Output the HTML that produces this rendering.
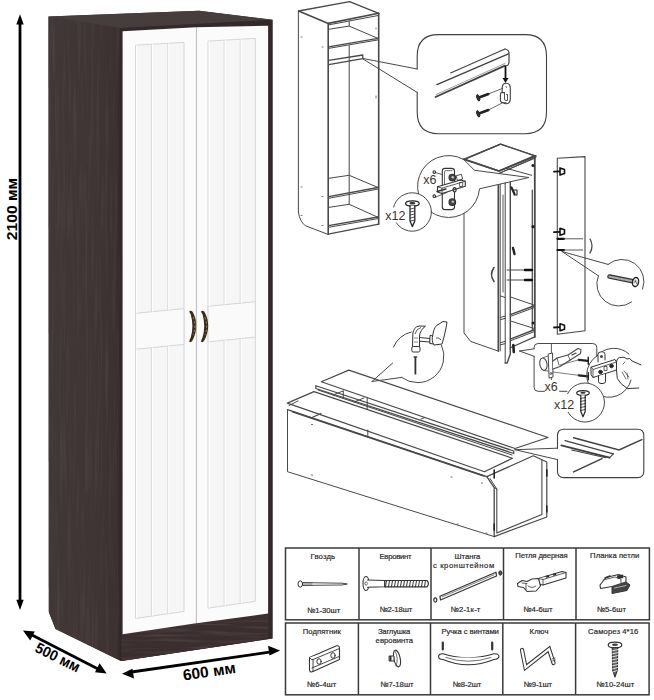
<!DOCTYPE html>
<html><head><meta charset="utf-8">
<style>
html,body{margin:0;padding:0;background:#fff;width:654px;height:700px;overflow:hidden}
svg{display:block;position:absolute;left:0;top:0}
text{font-family:"Liberation Sans",sans-serif}
</style></head>
<body>
<svg width="654" height="700" viewBox="0 0 654 700">
<defs>
<linearGradient id="side" x1="0" y1="0" x2="1" y2="0">
<stop offset="0" stop-color="#413737"/><stop offset="0.6" stop-color="#3f3535"/><stop offset="0.93" stop-color="#3b3131"/><stop offset="1" stop-color="#2e2424"/>
</linearGradient>
<filter id="grain" x="0" y="0" width="100%" height="100%">
<feTurbulence type="fractalNoise" baseFrequency="0.35 0.012" numOctaves="3" seed="7" result="n"/>
<feColorMatrix in="n" type="matrix" values="0 0 0 0 0.42  0 0 0 0 0.36  0 0 0 0 0.36  0 0 0 1.6 -0.75" result="c"/>
<feComposite in="c" in2="SourceGraphic" operator="in"/>
</filter>
<filter id="grainH" x="0" y="0" width="100%" height="100%">
<feTurbulence type="fractalNoise" baseFrequency="0.015 0.3" numOctaves="3" seed="3" result="n"/>
<feColorMatrix in="n" type="matrix" values="0 0 0 0 0.38  0 0 0 0 0.30  0 0 0 0 0.30  0 0 0 1.6 -0.75" result="c"/>
<feComposite in="c" in2="SourceGraphic" operator="in"/>
</filter>
</defs>
<!-- ===== WARDROBE ===== -->
<g id="wardrobe">
<!-- silhouette base -->
<polygon points="48.5,16.5 199,10.8 272.5,19.8 272.5,638.5 120.5,661 55.5,629 48.8,612" fill="#423838"/>
<!-- top surface -->
<polygon points="48.5,16.5 199,10.8 272.5,19.8 120.5,28" fill="#463d3d"/>
<!-- left side panel -->
<polygon points="48.5,16.5 121.5,28.2 121.5,661 55.5,629 48.8,612" fill="url(#side)"/>
<polygon points="48.5,16.5 121.5,28.2 121.5,661 55.5,629 48.8,612" fill="#fff" filter="url(#grain)" opacity="0.14"/>
<!-- front frame -->
<polygon points="121,28 272.5,19.8 272.5,638.5 121,661" fill="#33282a"/>
<polygon points="121.5,634 268.5,613 268.5,638.5 121.5,661" fill="#3b2e2e"/>
<polygon points="121.5,634 268.5,613 268.5,638.5 121.5,661" fill="#fff" filter="url(#grainH)" opacity="0.3"/>
<!-- left door -->
<polygon points="122.6,31.3 196.1,27.3 196.1,623.3 122.6,634.3" fill="#fbfbfb"/>
<!-- right door -->
<polygon points="196.6,27.3 268.1,25.8 268.1,613.5 196.6,623.2" fill="#fbfbfb"/>
<!-- DOORS -->
<polygon points="135.5,45.2 184.0,42.4 184.0,611.5 135.5,618.4" fill="#f6f6f6" stroke="#d6d6d6" stroke-width="1"/>
<polygon points="135.5,313.3 184.0,308.6 184.0,344.4 135.5,349.3" fill="#fafafa" stroke="#d6d6d6" stroke-width="1"/>
<line x1="151.4" y1="44.3" x2="151.4" y2="311.8" stroke="#dcdcdc" stroke-width="1.1"/>
<line x1="152.5" y1="44.2" x2="152.5" y2="311.7" stroke="#ffffff" stroke-width="0.9"/>
<line x1="167.7" y1="43.4" x2="167.7" y2="310.2" stroke="#dcdcdc" stroke-width="1.1"/>
<line x1="168.8" y1="43.3" x2="168.8" y2="310.1" stroke="#ffffff" stroke-width="0.9"/>
<line x1="136.7" y1="45.1" x2="136.7" y2="313.2" stroke="#ffffff" stroke-width="0.9"/>
<line x1="151.4" y1="347.7" x2="151.4" y2="616.1" stroke="#dcdcdc" stroke-width="1.1"/>
<line x1="152.5" y1="347.6" x2="152.5" y2="615.9" stroke="#ffffff" stroke-width="0.9"/>
<line x1="167.7" y1="346.0" x2="167.7" y2="613.8" stroke="#dcdcdc" stroke-width="1.1"/>
<line x1="168.8" y1="345.9" x2="168.8" y2="613.6" stroke="#ffffff" stroke-width="0.9"/>
<line x1="136.7" y1="349.2" x2="136.7" y2="618.2" stroke="#ffffff" stroke-width="0.9"/>
<polygon points="208.0,41.1 255.3,38.4 255.3,601.3 208.0,608.1" fill="#f6f6f6" stroke="#d6d6d6" stroke-width="1"/>
<polygon points="208.0,306.3 255.3,301.7 255.3,337.1 208.0,341.9" fill="#fafafa" stroke="#d6d6d6" stroke-width="1"/>
<line x1="224.1" y1="40.2" x2="224.1" y2="304.7" stroke="#dcdcdc" stroke-width="1.1"/>
<line x1="225.2" y1="40.1" x2="225.2" y2="304.6" stroke="#ffffff" stroke-width="0.9"/>
<line x1="240.2" y1="39.3" x2="240.2" y2="303.2" stroke="#dcdcdc" stroke-width="1.1"/>
<line x1="241.3" y1="39.2" x2="241.3" y2="303.1" stroke="#ffffff" stroke-width="0.9"/>
<line x1="209.2" y1="41.0" x2="209.2" y2="306.2" stroke="#ffffff" stroke-width="0.9"/>
<line x1="224.1" y1="340.3" x2="224.1" y2="605.8" stroke="#dcdcdc" stroke-width="1.1"/>
<line x1="225.2" y1="340.2" x2="225.2" y2="605.6" stroke="#ffffff" stroke-width="0.9"/>
<line x1="240.2" y1="338.6" x2="240.2" y2="603.5" stroke="#dcdcdc" stroke-width="1.1"/>
<line x1="241.3" y1="338.5" x2="241.3" y2="603.3" stroke="#ffffff" stroke-width="0.9"/>
<line x1="209.2" y1="341.8" x2="209.2" y2="607.9" stroke="#ffffff" stroke-width="0.9"/>

<g id="handles"><g transform="translate(0,0)">
<path d="M189.2,311.6 Q190.5,309.6 192.6,311.8 Q196.4,318.5 196.4,326 Q196.2,333.5 192.6,340.2 Q190.8,343.4 189.2,341.6 Q189.6,339.5 190.7,337.6 Q192.4,332 192.4,326 Q192.4,320 190.8,314.4 Q189.5,312.8 189.2,311.6 Z" fill="#3a2c18"/>
<path d="M193,317 Q194.8,321.5 194.9,326 Q194.8,330.5 193,335" fill="none" stroke="#a88a45" stroke-width="0.9" stroke-dasharray="2.5 1.8"/>
</g><g transform="translate(11.8,0)">
<path d="M189.2,311.6 Q190.5,309.6 192.6,311.8 Q196.4,318.5 196.4,326 Q196.2,333.5 192.6,340.2 Q190.8,343.4 189.2,341.6 Q189.6,339.5 190.7,337.6 Q192.4,332 192.4,326 Q192.4,320 190.8,314.4 Q189.5,312.8 189.2,311.6 Z" fill="#3a2c18"/>
<path d="M193,317 Q194.8,321.5 194.9,326 Q194.8,330.5 193,335" fill="none" stroke="#a88a45" stroke-width="0.9" stroke-dasharray="2.5 1.8"/>
</g></g>
<!-- /DOORS -->
<!-- door split line -->
<line x1="196.3" y1="27.3" x2="196.3" y2="623.2" stroke="#e8e8e8" stroke-width="0.7"/>
</g>
<!-- ===== DIAGRAMS ===== -->
<g id="diag1" fill="none" stroke="#484848" stroke-width="1" stroke-linejoin="round" stroke-linecap="round">
<!-- top panel -->
<path d="M298.6,11 L349.6,1.6 L378.7,13.3" stroke-width="1.3"/>
<path d="M298.6,11 L328.3,23.4 L378.7,13.3" stroke-width="1.6"/>
<path d="M328.6,24.9 L377.8,15.6"/>
<!-- left side -->
<path d="M298.4,11 L298.4,212 Q299.5,221 305.3,225.7 L327.5,234.2"/>
<line x1="328.2" y1="23.4" x2="328.2" y2="234.2" stroke-width="1.6"/>
<line x1="378.7" y1="13.3" x2="378.7" y2="224.2" stroke-width="1.6"/>
<path d="M328.2,234.2 L378.7,224.2" stroke-width="1.3"/>
<!-- inner back corner -->
<line x1="349.2" y1="21" x2="349.2" y2="26"/>
<line x1="349.2" y1="45.5" x2="349.2" y2="204.5"/>
<!-- shelf 1 -->
<path d="M328.6,29.3 L349.2,26.1 L378,38.4"/>
<path d="M328.6,46.9 L378,38.4" stroke-width="1.3"/>
<path d="M328.6,48.4 L378,39.9"/>
<!-- rail -->
<path d="M328.6,60.3 L362.8,55 L362.8,58.7 L328.6,64.6" stroke-width="1.3"/>
<!-- shelf 2 -->
<path d="M328.6,178.3 L349.2,175.3 L378,187.5"/>
<path d="M328.6,196.7 L378,187.5" stroke-width="1.3"/>
<path d="M328.6,198.3 L378,189.1"/>
<!-- bottom shelf -->
<path d="M328.6,207.4 L349.2,204.3 L378,217.3"/>
<path d="M328.6,225.7 L378,217" stroke-width="1.3"/>
<path d="M328.6,227.3 L378,218.6"/>
<!-- callout lines -->
<path d="M363,58.5 L417.2,69"/>
<path d="M363,59 L417.2,92.4"/>
<!-- small dots -->
<g stroke="#777" stroke-width="1">
<line x1="301" y1="37" x2="302" y2="37"/><line x1="322" y1="47" x2="323" y2="47"/>
<line x1="301" y1="187" x2="302" y2="187"/><line x1="322" y1="196.5" x2="323" y2="196.5"/>
<line x1="301" y1="215.5" x2="302" y2="215.5"/><line x1="322" y1="225.5" x2="323" y2="225.5"/>
<line x1="376" y1="28" x2="376" y2="29"/><line x1="376" y1="96" x2="376" y2="98"/>
</g>
</g>
<g id="callout1" fill="none" stroke="#404040" stroke-width="1.1" stroke-linecap="round" stroke-linejoin="round">
<path d="M417.2,69 L417.2,56 Q417.2,34.6 438.6,34.6 L525,34.6 Q546.5,34.6 546.5,56 L546.5,112 Q546.5,133.7 525,133.7 L438.6,133.7 Q417.2,133.7 417.2,112 L417.2,92.4"/>
<!-- rail -->
<path d="M450.6,73 L505,49"/>
<path d="M436.9,84.7 L508.4,53.8" stroke-width="1.3"/>
<path d="M505,49 Q509.5,50 509,54 L509,62.5 Q508.5,65.8 505,66" stroke-width="1.2"/>
<path d="M435.5,97 L505,65.6" stroke-width="1.8"/>
<path d="M436,94.6 L505,63.4" stroke-width="0.7" stroke="#777"/>
<!-- arrow down -->
<line x1="505.5" y1="67" x2="505.5" y2="79" stroke="#111" stroke-width="1.8"/>
<polygon points="502.5,78 508.5,78 505.5,83" fill="#111" stroke="none"/>
<!-- bracket -->
<path d="M502.2,88 Q502.2,83.2 506.2,83.2 Q510.3,83.2 510.3,88 L510.3,99 Q510.3,103.7 506.2,103.7 Q502.2,103.7 502.2,99 Z" fill="#fff" stroke-width="1.1"/>
<path d="M506,86.5 L506.5,87.5" stroke-width="0.8"/>
<path d="M504.5,92.6 L502,92.6 Q500.4,92.6 500.4,94.5 L500.4,100 Q500.4,102.8 503.5,102.8 L506,102.8" fill="#fff" stroke-width="1.1"/>
<path d="M504.5,92.6 L504.5,99 Q504.5,100.5 506,100.5 L507.5,100.5 L507.5,94.5 L506.5,94.5" stroke-width="0.9"/>
<!-- screws -->
<path d="M479,97.5 L488.4,94" stroke="#222" stroke-width="2.6"/>
<ellipse cx="478.2" cy="97.8" rx="1.4" ry="3.4" transform="rotate(-18 478.2 97.8)" fill="#333" stroke="#222" stroke-width="0.8"/>
<path d="M488.4,94 L502.2,88.5" stroke-width="0.8"/>
<path d="M479,113.5 L488.4,110" stroke="#222" stroke-width="2.6"/>
<ellipse cx="478.2" cy="113.8" rx="1.4" ry="3.4" transform="rotate(-18 478.2 113.8)" fill="#333" stroke="#222" stroke-width="0.8"/>
<path d="M488.4,110 L502.2,103" stroke-width="0.8"/>
</g>

<g id="diag2" fill="none" stroke="#484848" stroke-width="1" stroke-linejoin="round" stroke-linecap="round">
<!-- cabinet 2 -->
<path d="M464.6,159.3 L500.4,144.1 L534.8,155.8" stroke-width="1.3"/>
<path d="M464.6,159.3 L499,171 L534.8,155.8" stroke-width="1.6"/>
<path d="M499.5,173.2 L534.8,157.6"/>
<path d="M464,159.5 L464,333 L470.8,341.5 L498.3,351.1"/>
<line x1="534.8" y1="155.8" x2="534.8" y2="336.9" stroke-width="1.8"/>
<line x1="532.3" y1="190" x2="532.3" y2="330" stroke-width="1.2"/>
<line x1="498.3" y1="183" x2="498.3" y2="351.1" stroke-width="1.6"/>
<line x1="500.2" y1="183" x2="500.2" y2="351"/>

<!-- open door strip -->
<path d="M505.2,184 L505.2,363"/>
<path d="M510.3,181 L510.3,354 L507.2,363 L505.2,363" stroke-width="1.4"/>
<line x1="503" y1="195" x2="503" y2="292" stroke-width="0.9"/>
<path d="M505.2,184 L507.5,176 L510.3,181"/>
<!-- shelves -->
<path d="M510.3,296.9 L533.7,304.9"/>
<path d="M510.3,314.6 L533.7,306" stroke-width="1.4"/>
<path d="M510.3,316.4 L533.7,307.8"/>
<path d="M510.3,320.9 L533.7,328.3"/>
<path d="M510.3,339.1 L533.7,330" stroke-width="1.4"/>
<path d="M510.3,340.9 L533.7,331.8"/>
<path d="M510.3,347.7 L534.8,336.9" stroke-width="1.2"/>
<path d="M500.5,317.4 L505.2,316.2 M500.5,319.6 L505.2,318.4"/>
<path d="M500.5,342.6 L505.2,341.4 M500.5,344.8 L505.2,343.6"/>
<path d="M500.5,296 L505.2,297.5"/>
<!-- screws -->
<path d="M507,270 L525,270"/>
<path d="M525,270 L532,270" stroke="#111" stroke-width="2.4"/>
<path d="M507,280 L525,280"/>
<path d="M525,280 L532,280" stroke="#111" stroke-width="2.4"/>
<path d="M494,267.5 Q489,274.5 494,281.5" stroke-width="1.6"/>
<!-- hinge bits -->
<path d="M513,248 L514.5,254" stroke="#222" stroke-width="2.4"/>
<path d="M513.3,345 L513.8,352" stroke="#222" stroke-width="2.6"/>
<path d="M511.5,187.5 L514.5,194" stroke="#222" stroke-width="2.2"/><path d="M514,190 L517,190 L517,195 L514,195" stroke="#222" stroke-width="1.1"/>
<circle cx="533" cy="165.5" r="1.6" fill="#222" stroke="none"/>
<circle cx="533" cy="226.7" r="1.6" fill="#222" stroke="none"/>
<circle cx="533" cy="323" r="1.6" fill="#222" stroke="none"/>
<!-- door panel -->
<path d="M557.3,158.3 L585,156.6 L585,330.7 L557.3,334.2 Z" stroke-width="1.1"/>
<path d="M554,171.7 L560,171.4" stroke="#111" stroke-width="1.8"/><path d="M560,167.9 L564.5,169.4 L564.5,173.4 L560,174.9 Z" fill="#fff" stroke="#111" stroke-width="1.6"/>
<path d="M554,232.1 L560,231.8" stroke="#111" stroke-width="1.8"/><path d="M560,228.3 L564.5,229.8 L564.5,233.8 L560,235.3 Z" fill="#fff" stroke="#111" stroke-width="1.6"/>
<path d="M554,327.5 L560,327.2" stroke="#111" stroke-width="1.8"/><path d="M560,323.7 L564.5,325.2 L564.5,329.2 L560,330.7 Z" fill="#fff" stroke="#111" stroke-width="1.6"/>
<path d="M557.5,238.8 L564,238.8" stroke="#111" stroke-width="2.2"/><path d="M564,238.8 L582.7,238.8" stroke-width="0.9"/>
<path d="M557.5,250 L564,250" stroke="#111" stroke-width="2.2"/><path d="M564,250 L582.7,250" stroke-width="0.9"/>
<path d="M590,239 Q594,246 590,253" stroke-width="1.3"/>
<!-- screw callout -->
<path d="M562,251.5 L608,264.4"/>
<path d="M562,251.5 L598.4,275.8"/>
<path d="M608,264.4 A22,22 0 0 1 642.6,289"/>
<path d="M631.5,302 A22,22 0 0 1 598.4,275.8"/>
<path d="M609.5,276.6 L633,281.3" stroke="#333" stroke-width="4.6"/>
<path d="M609.5,276.6 L633,281.3" stroke="#aaa" stroke-width="2.2" stroke-dasharray="0.8 1.2"/>
<ellipse cx="635.5" cy="282" rx="3" ry="4.6" transform="rotate(11 635.5 282)" fill="#fff" stroke="#222" stroke-width="1.4"/>
<path d="M635,280 L636.5,283.5 M634,282.5 L636,281" stroke="#333" stroke-width="0.8"/>
<!-- hinge callout circle -->
<path d="M463.5,159.3 L474.5,170.3 L529,177.5 L479.5,188.8 A31,31 0 1 1 463.5,159.3 Z" fill="#fff" stroke-width="1"/>
<path d="M463.5,159.3 L500.6,144.2 L535.9,156" stroke-width="1.3"/>
<path d="M463.5,159.3 L498.9,171.1 L535.9,156" stroke-width="1.6"/>
<path d="M498.9,173.5 L535.9,157.8"/>
<path d="M507.3,168.6 L531.7,175.3"/>
<!-- hinge plate -->
<g stroke="#333" stroke-width="1.1" fill="#fff">
<path d="M442.3,185 L442.3,171 Q442.3,168.4 445,168.4 L451.5,168.4 Q454.5,168.4 454.5,171 L454.5,181.5"/>
<path d="M444.5,184 L444.5,172 Q444.5,170.6 446,170.6 L452,170.6" fill="none" stroke-width="0.7"/>
<path d="M437.5,186.8 L460.5,180 L465.3,181.2 L465.3,186.2 L442,193.5 L437.5,192 Z"/>
<path d="M437.5,186.8 L442,188.2 L465.3,181.2 M442,188.2 L442,193.5" fill="none" stroke-width="0.8"/>
<path d="M442.3,194 L442.3,207 Q442.3,209.6 445,209.6 L451.5,209.6 Q454.5,209.6 454.5,207 L454.5,192" />
<circle cx="452.3" cy="177.6" r="3.3" fill="#444"/>
<circle cx="452.8" cy="177.2" r="1.3" fill="#bbb" stroke="none"/>
<circle cx="452.3" cy="202.2" r="3.3" fill="#444"/>
<circle cx="452.8" cy="201.8" r="1.3" fill="#bbb" stroke="none"/>
<ellipse cx="454.6" cy="189.8" rx="1.5" ry="2.2" fill="none"/>
<rect x="460" y="182.5" width="2.6" height="4" fill="none" stroke-width="0.8"/>
<rect x="457" y="175" width="5" height="5" fill="none" stroke-width="0.8" transform="rotate(-15 459 177)"/>
<circle cx="434.3" cy="172.1" r="1.3" fill="none"/><line x1="435.6" y1="172.6" x2="442" y2="174.5" stroke-width="0.8"/>
<circle cx="434.3" cy="196.2" r="1.3" fill="none"/><line x1="435.6" y1="197" x2="447" y2="192.5" stroke-width="0.8"/>
<path d="M437,191.5 L446,189" stroke-width="1.4"/>
</g>
<!-- screw circle -->
<circle cx="412.2" cy="212" r="19.2" fill="#fff"/><rect x="384" y="207.5" width="22" height="15" fill="#fff" stroke="none"/>
<g stroke="#222">
<ellipse cx="412.4" cy="203.5" rx="6.8" ry="2.6" stroke-width="1.2" fill="#fff"/>
<ellipse cx="412.4" cy="203.3" rx="3" ry="1.2" fill="#333" stroke="none"/>
<path d="M410,206 L410,221 L412.4,226.6 L414.8,221 L414.8,206" stroke-width="1.3" fill="#fff"/>
<path d="M410.5,209 L414.5,208 M410.5,212 L414.5,211 M410.5,215 L414.5,214 M410.5,218 L414.5,217 M410.5,221 L414.5,220" stroke-width="0.8"/>
</g>
</g>
<g fill="#3a342e" font-size="12.5">
<text x="423.3" y="184.4">x6</text>
<text x="385.2" y="219.9">x12</text>
</g>

<g id="diag3" fill="none" stroke="#484848" stroke-width="1" stroke-linejoin="round" stroke-linecap="round">
<!-- box front face -->
<path d="M287.5,409.6 L287.5,471.7 L494.2,536.6"/>
<path d="M287.5,409.6 L486.8,476.6 L494.2,487.6 L494.2,536.6" stroke-width="1.3"/>
<path d="M292.5,411.8 L484,476" stroke-width="1.6"/>
<!-- end face -->
<path d="M486.8,476.6 L533.3,455.8 L546.8,462 L546.8,517 L494.2,536.6" stroke-width="1.2"/>
<path d="M496.8,489 L496.8,533 L541.9,514.5 L541.9,460" stroke-width="1.1"/>
<path d="M496.8,489 L490,478.5"/>
<path d="M494.2,487.6 L496.8,489"/>
<path d="M494.2,470 L494.2,478" stroke="#222" stroke-width="1.6"/>
<path d="M494.2,524 L494.2,530" stroke="#222" stroke-width="1.6"/>
<path d="M546.8,470 L546.8,476" stroke="#222" stroke-width="1.6"/>
<path d="M546.8,506 L546.8,512" stroke="#222" stroke-width="1.6"/>
<!-- lower sheet -->
<path d="M287.3,403.1 L314,391.6 L512.5,458.3 L484.4,471.7 Z" fill="#fff" stroke-width="1.2"/>
<path d="M289,405.5 L298,401" />
<path d="M311,418 L321,413.5" stroke-width="1.3"/>
<path d="M367.8,430 L367.8,437.5"/>
<!-- strip -->
<path d="M315.8,385.7 L513.8,451 L513.8,453.5 L315.8,388.5 Z" fill="#fff" stroke-width="1.2"/>
<path d="M318,390 L512,455"/>
<path d="M333,395 L343,391"/><path d="M354,402 L364,398"/>
<path d="M343.3,391 L343.3,398"/><path d="M367.2,398 L367.2,409"/>
<path d="M421,419 L431,415"/>
<!-- upper sheet -->
<path d="M321.3,381.7 L348.8,370.1 L548,437.5 L515,448.5 Z" fill="#fff" stroke-width="1.2"/>
<!-- dots -->
<g stroke="#666" stroke-width="1.1">
<line x1="311.5" y1="424.5" x2="312.5" y2="424.5"/>
<line x1="311.5" y1="475" x2="312.5" y2="475"/>
<line x1="451" y1="477" x2="452" y2="477"/>
<line x1="481.5" y1="483" x2="482.5" y2="483"/>
<line x1="457" y1="524" x2="458" y2="524"/>
<line x1="486" y1="533" x2="487" y2="533"/>
</g>
<!-- panel callout pointer -->
<path d="M515,449.7 L557.5,448.2"/>
<path d="M515,449.7 L557.5,459.6"/>
<!-- hammer circle -->
<path d="M401.6,377.4 A26.5,26.5 0 0 0 441.5,345"/>
<path d="M393.4,347.1 A26.5,26.5 0 0 1 411.3,332"/>
<path d="M372,381.5 L392.7,363"/>
<path d="M372,381.5 L401.6,377.4"/>
</g>
<!-- hammer -->
<g stroke="#333" stroke-width="1" fill="#fff" stroke-linejoin="round">
<path d="M412.8,334 Q413.5,327 419,326 L425.5,326.2 Q420,330 419.5,336 L419.5,347 L412.5,347 Z"/>
<path d="M415,334 Q416,329 421,327.5" fill="none" stroke-width="0.8"/>
<path d="M414,338 L418,338 M414,342 L418,342" fill="none" stroke-width="0.6"/>
<rect x="411.8" y="346.5" width="8.2" height="5.5" rx="1.5"/>
<path d="M419.5,337.5 L430,338.5 L430,342 L419.5,341.2 Z"/>
<path d="M430,335.5 L435,336 L434.7,344 L429.7,343.5 Z"/>
<path d="M433,334 Q434,326 439,324 L443,321.5 L447,322 L446,328 Q444,338 442,344 L434,345 Q431,341 433,334 Z"/>
<path d="M436,338 Q439,337 441,340" fill="none" stroke-width="0.8"/>
<path d="M415.4,357 L415.4,374.5" stroke-width="1.8"/>
<path d="M413.6,357 L417.2,357" stroke-width="1.4"/>
</g>
<!-- panel callout -->
<g fill="none" stroke="#404040" stroke-width="1.1" stroke-linecap="round">
<path d="M557.5,448.2 L557.5,435.5 Q557.5,429.2 563.8,429.2 L637.5,429.2 Q643.8,429.2 643.8,435.5 L643.8,471.3 Q643.8,477.6 637.5,477.6 L563.8,477.6 Q557.5,477.6 557.5,471.3 L557.5,459.6"/>
<path d="M573.6,437.8 L619,450 L641.9,439.6" stroke-width="1.5"/>
<path d="M565,440.6 L613.4,453.9"/>
<path d="M561.3,445.3 L609.6,457.7" stroke-width="1.8"/>
<path d="M571.7,450 L605.8,457.7"/>
<path d="M609.6,457.7 L613.4,453.9"/>
<path d="M573.6,471.9 L602,458.6" stroke-width="1.5"/>
</g>

<g id="diag4" fill="none" stroke="#484848" stroke-width="1" stroke-linejoin="round" stroke-linecap="round">
<!-- pointer -->
<path d="M519.5,351 L534.1,348.8"/>
<path d="M519.5,351 L534.1,356.3"/>
<!-- rounded rect (partial) -->
<path d="M534.1,348.8 L534.1,347.5 Q534.1,343.5 538.1,343.5 L592.8,343.5 Q596.8,343.5 596.8,347.5 L596.8,356"/>
<path d="M534.1,356.3 L534.1,387.3 Q534.1,391.3 538.1,391.3 L544.5,391.3"/>
<path d="M559.6,391.3 L567,391.3"/>
<line x1="551.4" y1="343.5" x2="551.4" y2="353" stroke-width="0.9"/>
<line x1="551.4" y1="376" x2="551.4" y2="379.6" stroke-width="0.9"/>
<!-- hinge cup & arm -->
<ellipse cx="543.4" cy="364.1" rx="3.6" ry="6.2" transform="rotate(-10 543.4 364.1)" stroke-width="1.1"/>
<path d="M543,357.8 L548,356 M543.5,370.5 L548,371" stroke-width="0.8"/>
<path d="M548.5,354 L552.5,353 L553,377 L549.5,378 Z" fill="#fff" stroke-width="1"/>
<path d="M553,361 L557,358 L568,355 L578,348.5 L581,349.5 L580.5,353.5 L571,359.5 L560,366.5 L553,369" fill="#fff" stroke-width="1.1"/>
<path d="M557,358 L559,365 M568,355 L570,360" stroke-width="0.8"/>
<path d="M572,355 L576,353" stroke-width="1.3"/>
<circle cx="551" cy="373.5" r="1" stroke-width="0.8"/>
<!-- screws -->
<path d="M578.7,359.8 L588,360.8" stroke="#222" stroke-width="2.2"/>
<path d="M588.3,357.3 L588.3,364.3" stroke="#222" stroke-width="1.4"/>
<path d="M560,365 L578.7,359.8" stroke-width="0.7"/>
<path d="M578.7,375.3 L588,376.3" stroke="#222" stroke-width="2.2"/>
<path d="M588.3,372.8 L588.3,379.8" stroke="#222" stroke-width="1.4"/>
<path d="M553,372 L578.7,375.3" stroke-width="0.7"/>
<!-- hand circle -->
<path d="M596.8,356 A22.5,22.5 0 1 0 631,380"/>
<path d="M596.8,356 A22.5,22.5 0 0 1 629,354"/>
<g stroke="#333" stroke-width="1" fill="#fff" stroke-linejoin="round">
<path d="M598,362 L598,354.5 Q598,352 600.5,352 L602.5,351.8 Q605,351.8 605,354.5 L605,360"/>
<path d="M591.3,367.1 L615,359.5 L616.5,362 L616.5,370 L593,377.5 L591.3,375 Z"/>
<path d="M591.3,367.1 L593,369.5 L616.5,362 M593,369.5 L593,377.5" fill="none" stroke-width="0.8"/>
<path d="M598.5,376 L598.5,381.5 Q598.5,383.5 601,383.5 L603,383.5 Q605.5,383.5 605.5,381 L605.5,374"/>
<circle cx="600.5" cy="372" r="1.8" fill="#222"/>
<circle cx="611.5" cy="366" r="1.8" fill="#222"/>
<rect x="604.5" y="366.5" width="2.5" height="4" fill="none" stroke-width="0.8"/>
<circle cx="601.5" cy="356.5" r="1.5" fill="#444" stroke="none"/>
<path d="M616.5,362 Q617,357 621,357.5 Q624,356 627,359 Q630,357 632,361 L641,364.9" fill="none"/>
<path d="M616.5,370 L617.3,378.5 Q620,384 627.5,388.6 L638.8,388" fill="none"/>
<path d="M622,372 L626,379 M624,371 L629,377 M627,373 L628,379" fill="none" stroke-width="0.7"/>
<path d="M623,364 L625,362" fill="none" stroke-width="0.7"/>
</g>
<!-- screw circle -->
<circle cx="585" cy="402.5" r="19.5" fill="#fff" stroke-width="1"/>
<rect x="553" y="394" width="20" height="18" fill="#fff" stroke="none"/>
<g stroke="#222">
<ellipse cx="583" cy="393" rx="6.3" ry="2.4" stroke-width="1.2" fill="#fff"/>
<ellipse cx="583" cy="392.8" rx="2.6" ry="1" fill="#333" stroke="none"/>
<path d="M580.8,395.3 L580.8,411.5 L583,416.8 L585.2,411.5 L585.2,395.3" stroke-width="1.2" fill="#fff"/>
<path d="M580.5,398.5 L585.5,397.5 M580.5,401.5 L585.5,400.5 M580.5,404.5 L585.5,403.5 M580.5,407.5 L585.5,406.5 M580.5,410.5 L585.5,409.5" stroke-width="0.8"/>
</g>
</g>
<g fill="#3a342e" font-size="12.5">
<text x="544.5" y="390.7">x6</text>
<text x="554" y="409.4">x12</text>
</g>

<!-- ===== TABLE ===== -->
<g fill="none" stroke="#3a3a3a" stroke-width="1.5">
<rect x="285.5" y="548" width="363.9" height="71.8"/>
<rect x="285.5" y="623" width="363.6" height="71.8"/>
<line x1="359" y1="548" x2="359" y2="619.8"/>
<line x1="431" y1="548" x2="431" y2="619.8"/>
<line x1="503.5" y1="548" x2="503.5" y2="619.8"/>
<line x1="576" y1="548" x2="576" y2="619.8"/>
<line x1="358.4" y1="623" x2="358.4" y2="694.8"/>
<line x1="430.5" y1="623" x2="430.5" y2="694.8"/>
<line x1="502.8" y1="623" x2="502.8" y2="694.8"/>
<line x1="575.6" y1="623" x2="575.6" y2="694.8"/>
</g>
<g fill="#2b2b2b" stroke="#2b2b2b" stroke-width="0.2" font-size="7.7">
<text x="310.5" y="558.6" textLength="24.6" lengthAdjust="spacing">Гвоздь</text>
<text x="379.4" y="558.8" textLength="32.2" lengthAdjust="spacing">Евровинт</text>
<text x="454.4" y="558.8" textLength="26.0" lengthAdjust="spacing">Штанга</text>
<text x="433.0" y="568" textLength="61.2" lengthAdjust="spacing">с кронштейном</text>
<text x="515.3" y="558.4" textLength="52.3" lengthAdjust="spacing">Петля дверная</text>
<text x="590.1" y="558.4" textLength="49.3" lengthAdjust="spacing">Планка петли</text>
<text x="307.0" y="612.5" textLength="33.2" lengthAdjust="spacing">№1-30шт</text>
<text x="379.4" y="612.3" textLength="32.9" lengthAdjust="spacing">№2-18шт</text>
<text x="450.5" y="612.3" textLength="29.9" lengthAdjust="spacing">№2-1к-т</text>
<text x="523.3" y="612.3" textLength="29.2" lengthAdjust="spacing">№4-6шт</text>
<text x="596.7" y="612.3" textLength="29.3" lengthAdjust="spacing">№5-6шт</text>
<text x="302.7" y="633.6" textLength="38.2" lengthAdjust="spacing">Подпятник</text>
<text x="377.9" y="633.6" textLength="32.5" lengthAdjust="spacing">Заглушка</text>
<text x="375.6" y="643.2" textLength="37.5" lengthAdjust="spacing">евровинта</text>
<text x="441.4" y="633.8" textLength="57.5" lengthAdjust="spacing">Ручка с винтами</text>
<text x="529.6" y="633.8" textLength="19.0" lengthAdjust="spacing">Ключ</text>
<text x="588.1" y="633.8" textLength="50.2" lengthAdjust="spacing">Саморез 4*16</text>
<text x="306.8" y="687.3" textLength="29.5" lengthAdjust="spacing">№6-4шт</text>
<text x="380.2" y="687.3" textLength="33.4" lengthAdjust="spacing">№7-18шт</text>
<text x="452.6" y="686.8" textLength="28.8" lengthAdjust="spacing">№8-2шт</text>
<text x="523.6" y="686.8" textLength="28.5" lengthAdjust="spacing">№9-1шт</text>
<text x="596.2" y="686.8" textLength="38.2" lengthAdjust="spacing">№10-24шт</text>
</g>
<g id="icons" fill="#fff" stroke="#333" stroke-width="1" stroke-linejoin="round" stroke-linecap="round">
<!-- nail -->
<path d="M302,582.6 L342,583.2 L347.3,584 L342,585 L302,585.4 Z" stroke-width="0.9"/>
<ellipse cx="300.3" cy="584" rx="2.3" ry="3.2"/>
<path d="M303,583 L312,583 M303,585 L312,585" stroke-width="0.6"/>
<!-- eurovint -->
<ellipse cx="366" cy="583.5" rx="3" ry="7" stroke-width="1.1"/>
<circle cx="366.3" cy="583.5" r="1.5" stroke-width="0.8"/>
<path d="M367.5,580 L384.8,580.5 L384.8,586.8 L367.5,587.2" stroke-width="1.1"/>
<path d="M384.8,580.5 L427,580.5 Q429.8,583.6 427,586.8 L384.8,586.8 Z" fill="#fff" stroke-width="1.2"/>
<path d="M386.5,580.5 L385.5,586.8 M389.5,580.5 L388.5,586.8 M392.5,580.5 L391.5,586.8 M395.5,580.5 L394.5,586.8 M398.5,580.5 L397.5,586.8 M401.5,580.5 L400.5,586.8 M404.5,580.5 L403.5,586.8 M407.5,580.5 L406.5,586.8 M410.5,580.5 L409.5,586.8 M413.5,580.5 L412.5,586.8 M416.5,580.5 L415.5,586.8 M419.5,580.5 L418.5,586.8 M422.5,580.5 L421.5,586.8 M425.5,580.5 L424.5,586.8" stroke="#333" stroke-width="1"/>
<!-- rod -->
<path d="M439.9,596.2 L496,572.2 L496.5,576 L440.5,600 Z" stroke-width="1.2"/>
<path d="M442,597 L494,574.8" stroke-width="0.6"/>
<ellipse cx="435.3" cy="600" rx="1.5" ry="2.1" fill="#fff" stroke-width="1.2"/>
<ellipse cx="500.3" cy="573" rx="1.5" ry="2.3" fill="#555" stroke-width="1"/>
<!-- hinge -->
<path d="M538.5,578.5 L562,571.5 L566,572.5 L566,578 L543,585 L538.5,584 Z" stroke-width="1.1"/>
<path d="M538.5,578.5 L543,579.5 L566,572.5 M543,579.5 L543,585" stroke-width="0.8"/>
<rect x="546" y="575.5" width="3" height="2.2" fill="#333" stroke="none" transform="rotate(-16 547 576)"/>
<rect x="553" y="573.5" width="3" height="2.2" fill="#333" stroke="none" transform="rotate(-16 554 574)"/>
<path d="M517.5,583.5 L522,580.5 L527,581.5 L532,579 L538.5,578.5 L540.5,586 L536,591 L527,591.5 L523.5,587.5 L518,586.5 Z" stroke-width="1.1"/>
<path d="M522,583 L527,583.5 M528,586 Q532,589 536,586" stroke-width="0.8"/>
<path d="M526,584 L526,590" stroke-width="0.8"/>
<!-- plate -->
<path d="M600,585 L606,577.5 L618.5,574.5 L626,577 L626,582 L612,586.5 L600.5,588.5 Z" stroke-width="1.1"/>
<path d="M603,580 L615,577 L621,579 L621,583" stroke-width="0.8"/>
<path d="M612,586.5 L612,593.5 L627,590.5 L630,585 L626,582" fill="#444" stroke-width="1"/>
<path d="M614.5,588 L626,585.5" stroke="#bbb" stroke-width="0.9"/>
<rect x="617" y="575" width="6" height="3.5" fill="#333" stroke="none" transform="rotate(-10 620 576)"/>
<path d="M605,578 L610,576" stroke-width="1.5"/>
<!-- podpyatnik -->
<path d="M309.5,657.5 L336,646 Q339.5,645 339.5,648.5 L339.5,659.5 L313,671.5 Q309.5,673 309.5,669.5 Z" stroke-width="1.1"/>
<path d="M309.5,657.5 Q311,660.5 313,659.5 L339.5,648.5 M313,659.5 L313,671.5" stroke-width="0.9"/>
<path d="M312,668 L339,656.5" stroke-width="0.9"/>
<ellipse cx="319" cy="661.5" rx="2.2" ry="2.8"/>
<ellipse cx="333" cy="655.5" rx="2.2" ry="2.8"/>
<!-- zaglushka -->
<ellipse cx="397" cy="658.5" rx="3.2" ry="8.5" transform="rotate(-12 397 658.5)" stroke-width="1.1"/>
<path d="M395,651 Q399,658 396,666" stroke-width="0.7"/>
<rect x="389.5" y="656" width="4.5" height="5" fill="#fff" stroke-width="1"/>
<rect x="389.5" y="656" width="2" height="5" fill="#333" stroke="none"/>
<!-- handle -->
<path d="M438.5,656.5 Q439,653.5 443,653.8 Q468,662 494,653.8 Q499,653.5 499,656.8 Q498,659.5 494,659.5 Q468,670 443,659.5 Q438.5,659.5 438.5,656.5 Z" stroke-width="1.1"/>
<path d="M446,657.5 Q468,665 491,657.5" stroke-width="0.7"/>
<path d="M442.8,642.5 L442.8,649.5 M492.2,642.5 L492.2,649.5" stroke-width="2.2"/>
<!-- key -->
<path d="M522,650 L525.5,667.5 L549,649 L553.5,663" fill="none" stroke="#333" stroke-width="4.2" stroke-linejoin="miter"/>
<path d="M522,650 L525.5,667.5 L549,649 L553.5,663" fill="none" stroke="#fff" stroke-width="2.2" stroke-linejoin="miter"/>
<path d="M552,659 L555,658 M552.5,661 L555.5,660" stroke-width="0.7"/>
<!-- self tapping screw -->
<ellipse cx="615" cy="645" rx="6.8" ry="2.8" stroke-width="1.2"/>
<ellipse cx="615" cy="644.8" rx="3" ry="1.2" fill="#444" stroke="none"/>
<path d="M612.3,647.5 L612.6,670 L615,677 L617.4,670 L617.7,647.5 Z" fill="#666" stroke-width="1.1"/>
<path d="M611.5,651 L618.5,649.5 M611.5,654 L618.5,652.5 M611.5,657 L618.5,655.5 M611.5,660 L618.5,658.5 M611.8,663 L618.2,661.5 M612,666 L618,664.5 M612.3,669 L617.7,667.5 M613,672 L617,670.5" stroke="#fff" stroke-width="0.8"/>
</g>

<!-- ===== DIMENSIONS ===== -->
<g id="dims" fill="#000">
<rect x="18.6" y="23" width="2.8" height="579"/>
<polygon points="20,14.3 16.3,24.5 23.7,24.5"/>
<polygon points="20,610 16.3,599.8 23.7,599.8"/>
<g stroke="#000" stroke-width="2.8">
<line x1="29" y1="633.5" x2="101" y2="670.5"/>
<line x1="128" y1="672.5" x2="273" y2="651.7"/>
</g>
<polygon points="23,630.5 34.8,631.6 30.2,640.6"/>
<polygon points="106.7,673.4 95,672.3 99.6,663.3"/>
<polygon points="122,673.8 132.5,668.8 134,678.6"/>
<polygon points="280.1,650.6 269.5,655.6 268,645.8"/>
<text transform="translate(34,651.3) rotate(26.5)" font-size="15" font-weight="bold" textLength="48" lengthAdjust="spacingAndGlyphs">500 мм</text>
<text transform="translate(183.8,680.4) rotate(-8.1)" font-size="15.5" font-weight="bold">600 мм</text>
<text transform="translate(16.9,240.3) rotate(-90)" font-size="15.2" font-weight="bold" textLength="62.5" lengthAdjust="spacingAndGlyphs">2100 мм</text>
</g>
</svg>
</body></html>
